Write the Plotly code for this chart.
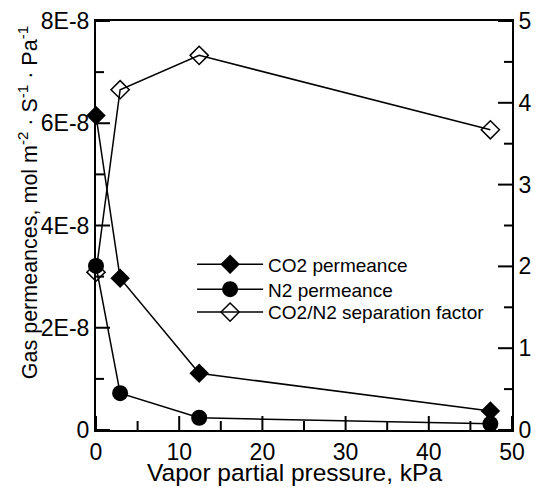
import plotly.graph_objects as go

# Data
pressure = [0.0, 2.9, 12.4, 47.4]                 # Vapor partial pressure, kPa
co2_perm = [6.15e-8, 2.97e-8, 1.11e-8, 0.37e-8]   # CO2 permeance
n2_perm = [3.21e-8, 0.72e-8, 0.24e-8, 0.12e-8]    # N2 permeance
sep_factor = [1.93, 4.16, 4.58, 3.67]             # CO2/N2 separation factor

x_range = [0, 50]
y_range = [0, 8e-8]
y2_range = [0, 5]
x_major = [0, 10, 20, 30, 40, 50]
x_minor = [5, 15, 25, 35, 45]
y_major = [0, 2e-8, 4e-8, 6e-8, 8e-8]
y_ticktext = ["0", "2E-8", "4E-8", "6E-8", "8E-8"]
y_minor = [1e-8, 3e-8, 5e-8, 7e-8]
y2_major = [0, 1, 2, 3, 4, 5]
y2_minor = [0.5, 1.5, 2.5, 3.5, 4.5]

FONT = "Arial, Liberation Sans, sans-serif"
BLACK = "black"
W, H = 535, 487
M_L, M_R, M_T, M_B = 96, 23, 21, 57
PLOT_W, PLOT_H = W - M_L - M_R, H - M_T - M_B
MAJOR_LEN, MINOR_LEN = 14, 8   # tick lengths in px

fig = go.Figure()
fig.add_trace(go.Scatter(
    x=pressure, y=co2_perm, name="CO2 permeance", mode="lines+markers",
    line=dict(color=BLACK, width=1.5),
    marker=dict(symbol="diamond", size=15, color=BLACK),
    cliponaxis=False, legend="legend"))
fig.add_trace(go.Scatter(
    x=pressure, y=n2_perm, name="N2 permeance", mode="lines+markers",
    line=dict(color=BLACK, width=1.5),
    marker=dict(symbol="circle", size=16, color=BLACK),
    cliponaxis=False, legend="legend2"))
fig.add_trace(go.Scatter(
    x=pressure, y=sep_factor, name="CO2/N2 separation factor", mode="lines+markers",
    line=dict(color=BLACK, width=1.5),
    marker=dict(symbol="diamond-open", size=14, color=BLACK, line=dict(width=1.5)),
    yaxis="y2", cliponaxis=False, legend="legend3"))


# inward tick marks, built from the tick lists and drawn through the axes
def tick_trace(xs, ys, yaxis="y"):
    return go.Scatter(x=xs, y=ys, mode="lines", yaxis=yaxis,
                      line=dict(color=BLACK, width=2), showlegend=False,
                      hoverinfo="skip", cliponaxis=False)


y_span = y_range[1] - y_range[0]
x_span = x_range[1] - x_range[0]
y2_span = y2_range[1] - y2_range[0]

# bottom axis ticks
xs, ys = [], []
for vals, length in ((x_major, MAJOR_LEN), (x_minor, MINOR_LEN + 1)):
    dy = length / PLOT_H * y_span
    for v in vals:
        xs += [v, v, None]
        ys += [y_range[0], y_range[0] + dy, None]
fig.add_trace(tick_trace(xs, ys))

# left axis ticks
xs, ys = [], []
for vals, length in ((y_major, MAJOR_LEN), (y_minor, MINOR_LEN)):
    dx = length / PLOT_W * x_span
    for v in vals:
        xs += [x_range[0], x_range[0] + dx, None]
        ys += [v, v, None]
fig.add_trace(tick_trace(xs, ys))

# right axis ticks
xs, ys = [], []
for vals, length in ((y2_major, MAJOR_LEN), (y2_minor, MINOR_LEN)):
    dx = length / PLOT_W * x_span
    for v in vals:
        xs += [x_range[1], x_range[1] - dx, None]
        ys += [v, v, None]
fig.add_trace(tick_trace(xs, ys, yaxis="y2"))

tickfont = dict(family=FONT, size=23, color=BLACK)


def base(**kw):
    d = dict(showgrid=False, zeroline=False, automargin=False, fixedrange=True,
             showline=True, linecolor=BLACK, linewidth=2, ticks="",
             tickfont=tickfont)
    d.update(kw)
    return d


def legend_at(ypos):
    return dict(x=0.231, y=ypos, xanchor="left", yanchor="middle",
                bgcolor="rgba(0,0,0,0)", borderwidth=0, itemwidth=66,
                font=dict(family=FONT, size=19, color=BLACK))


fig.update_layout(
    width=W, height=H,
    margin=dict(l=M_L, r=M_R, t=M_T, b=M_B, autoexpand=False),
    paper_bgcolor="white", plot_bgcolor="white",
    font=dict(family=FONT, color=BLACK),
    showlegend=True,
    legend=legend_at(0.405),
    legend2=legend_at(0.344),
    legend3=legend_at(0.288),
    xaxis=base(range=x_range, tickmode="array", tickvals=x_major, mirror=True),
    yaxis=base(range=y_range, tickmode="array", tickvals=y_major,
               ticktext=y_ticktext, ticklabelstandoff=0),
    yaxis2=base(range=y2_range, tickmode="array", tickvals=y2_major,
                overlaying="y", side="right"),
)

fig.add_annotation(
    text="Gas permeances, mol m<sup>-2</sup> · S<sup>-1</sup> · Pa<sup>-1</sup>",
    textangle=-90, xref="paper", yref="paper",
    x=-0.163, y=0.555, xanchor="center", yanchor="middle", showarrow=False,
    font=dict(family=FONT, size=21.5, color=BLACK))
fig.add_annotation(
    text="Vapor partial pressure, kPa",
    xref="paper", yref="paper", x=0.476, y=-0.103,
    xanchor="center", yanchor="middle", showarrow=False,
    font=dict(family=FONT, size=24.5, color=BLACK))

fig.write_html("out.html", config={"displayModeBar": False},
               post_script="document.body.style.margin='0px';")
